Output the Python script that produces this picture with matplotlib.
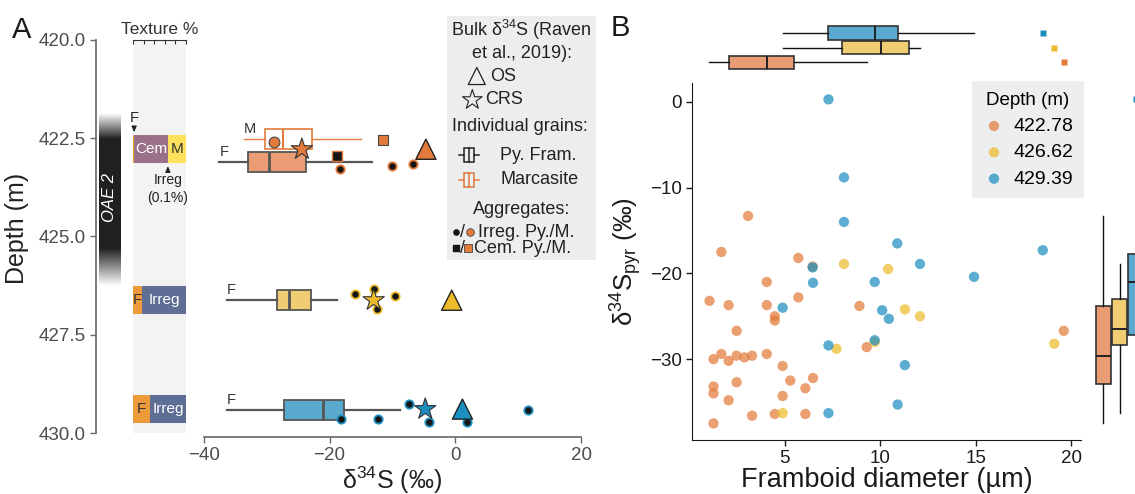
import numpy as np
import matplotlib
matplotlib.use('Agg')
import matplotlib.pyplot as plt
from matplotlib.patches import Rectangle

plt.rcParams['font.family'] = ['Liberation Sans', 'DejaVu Sans']
plt.rcParams['mathtext.fontset'] = 'custom'
plt.rcParams['mathtext.rm'] = 'Liberation Sans'
plt.rcParams['mathtext.it'] = 'Liberation Sans:italic'

# ---------------- data ----------------
depth_labels = ['422.78', '426.62', '429.39']
depths = [422.78, 426.62, 429.39]
colors = ['#E27B3B', '#EDBB2C', '#1D8EC0']
light = ['#EA9D74', '#F0CD72', '#5AAAD0']

# framboid diameter (um) and d34S (permil) of individual pyrite framboids
diam_42278 = [3.07, 1.67, 5.7, 6.45, 1.05, 2.05, 4.05, 4.05, 5.7, 4.47, 4.47, 2.47, 8.9,
              1.26, 1.67, 2.05, 2.47, 2.88, 3.28, 4.05, 4.88, 5.28, 6.47, 6.07, 2.47,
              1.26, 1.26, 2.05, 4.88, 3.28, 4.47, 6.07, 1.26, 9.28, 19.6]
d34s_42278 = [-13.3, -17.5, -18.2, -19.2, -23.2, -23.7, -21.0, -23.7, -22.8, -25.0, -25.5, -26.7, -23.8,
              -30.0, -29.4, -30.2, -29.6, -29.8, -29.6, -29.4, -30.8, -32.5, -32.2, -33.4, -32.7,
              -33.2, -34.0, -34.8, -34.3, -36.6, -36.4, -36.4, -37.5, -28.6, -26.7]
diam_42662 = [8.09, 10.4, 7.7, 4.88, 9.7, 11.28, 12.07, 19.1]
d34s_42662 = [-18.9, -19.5, -28.8, -36.3, -28.0, -24.2, -25.0, -28.2]
diam_42939 = [7.28, 8.09, 8.09, 6.45, 6.47, 9.7, 4.88, 10.09, 10.44, 7.28, 9.7, 7.28,
              10.88, 12.07, 18.5, 14.9, 11.28, 10.9]
d34s_42939 = [0.3, -8.8, -14.0, -19.3, -21.1, -21.0, -24.0, -24.3, -25.3, -28.4, -27.8, -36.3,
              -16.5, -18.9, -17.3, -20.4, -30.7, -35.3]
diam = [diam_42278, diam_42662, diam_42939]
d34s = [d34s_42278, d34s_42662, d34s_42939]

# bulk d34S (Raven et al., 2019)
bulk_os = [-4.7, -0.6, 1.1]
bulk_crs = [-24.4, -13.0, -4.8]

# aggregates: irregular pyrite (value, jittered depth)
irr_py_42278 = [-18.3, -10.1, -6.7]
irr_dep_42278 = [423.29, 423.21, 423.15]
irr_py_42662 = [-16.0, -13.0, -12.4, -9.6]
irr_dep_42662 = [426.45, 426.34, 426.85, 426.51]
irr_py_42939 = [-18.2, -12.3, -7.4, -4.2, 1.8, 11.5]
irr_dep_42939 = [429.65, 429.65, 429.27, 429.73, 429.73, 429.41]
cem_py = [-18.9]
cem_py_dep = [422.95]
irr_marc = [-28.9]
irr_marc_dep = [422.6]
cem_marc = [-11.5]
cem_marc_dep = [422.54]

# marcasite individual grains (box stats)
marc_stats = [dict(whislo=-33.6, q1=-30.2, med=-27.4, q3=-22.8, whishi=-15.0)]

# texture % per depth: F, Cem, Irreg, M
tex_names = ['F', 'Cem', 'Irreg', 'M']
tex_colors = ['#EC9A3A', '#9A7189', '#5F6E94', '#FDE05B']
tex_text = ['#333333', 'white', 'white', '#333333']
tex_42278 = [2.0, 63.9, 0.1, 34.0]
tex_42662 = [17.0, 0.0, 83.0, 0.0]
tex_42939 = [32.0, 0.0, 68.0, 0.0]
textures = [tex_42278, tex_42662, tex_42939]

# ---------------- figure ----------------
W, H = 1135, 494
fig = plt.figure(figsize=(W / 100, H / 100), dpi=100)


def rect(x0, y0, x1, y1):
    return [x0 / W, 1 - y1 / H, (x1 - x0) / W, (y1 - y0) / H]


gray = '#4D4D4D'

# ---- panel A ----
axA = fig.add_axes(rect(96, 36, 594, 437))
axA.set_xlim(-57.1, 22)
axA.set_ylim(430.1, 419.9)
for s in ['top', 'right']:
    axA.spines[s].set_visible(False)
axA.spines['left'].set_bounds(420, 430)
axA.spines['bottom'].set_bounds(-40, 20)
for s in ['left', 'bottom']:
    axA.spines[s].set_color('#666666')
    axA.spines[s].set_linewidth(1.2)
axA.set_yticks([420, 422.5, 425, 427.5, 430])
axA.set_yticklabels(['420.0', '422.5', '425.0', '427.5', '430.0'])
axA.set_xticks([-40, -20, 0, 20])
axA.tick_params(labelsize=13.5, labelcolor=gray, color='#666666', length=4, width=1)
axA.set_xlabel('δ$^{34}$S (‰)', fontsize=18, color='#222222', va='center')
axA.xaxis.set_label_coords(0.595, (437 - 480) / 401)
axA.set_ylabel('Depth (m)', fontsize=18, color='#222222')
axA.yaxis.set_label_coords(-0.135, 0.52)

# OAE 2 gradient bar
z = np.linspace(421.85, 426.25, 300)
shade = np.interp(z, [421.85, 422.5, 425.3, 426.25], [1.0, 0.13, 0.13, 1.0])
axA.imshow(shade.reshape(-1, 1), extent=[-56.7, -53.3, 426.25, 421.85], aspect='auto',
           cmap='gray', vmin=0, vmax=1, origin='upper', zorder=1)
axA.text(-55.0, 424.0, 'OAE 2', rotation=90, color='white', fontsize=12, style='italic',
         ha='center', va='center', zorder=2)

# F boxes (pyrite framboids)
dodge = [0.33, 0.0, 0.02]
for i in range(3):
    pos = depths[i] + dodge[i]
    bp = axA.boxplot(d34s[i], positions=[pos], widths=0.52, orientation='horizontal',
                     patch_artist=True, showfliers=False, showcaps=False, manage_ticks=False,
                     boxprops=dict(facecolor=light[i], edgecolor='#555555', linewidth=1.3),
                     whiskerprops=dict(color='#555555', linewidth=1.6),
                     medianprops=dict(color='#555555', linewidth=2))
    lo = bp['whiskers'][0].get_xdata()[1]
    axA.text(lo, pos - 0.08, 'F', fontsize=10.5, color='#333333', ha='left', va='bottom')

# marcasite box
mpos = depths[0] - 0.255
axA.bxp(marc_stats, positions=[mpos], widths=0.52, orientation='horizontal', patch_artist=True,
        showfliers=False, showcaps=False, manage_ticks=False,
        boxprops=dict(facecolor='white', edgecolor=colors[0], linewidth=1.2),
        whiskerprops=dict(color=colors[0], linewidth=1.0),
        medianprops=dict(color=colors[0], linewidth=1.5))
axA.text(marc_stats[0]['whislo'], mpos - 0.08, 'M', fontsize=10.5, color='#333333',
         ha='left', va='bottom')

# aggregates
irr_py = [irr_py_42278, irr_py_42662, irr_py_42939]
irr_dep = [irr_dep_42278, irr_dep_42662, irr_dep_42939]
for i in range(3):
    axA.scatter(irr_py[i], irr_dep[i], s=36, marker='o', c='#151515', edgecolors=colors[i],
                linewidths=1.3, zorder=4)
axA.scatter(cem_py, cem_py_dep, s=55, marker='s', c='#151515', edgecolors=colors[0],
            linewidths=1.0, zorder=4)
axA.scatter(irr_marc, irr_marc_dep, s=60, marker='o', c=colors[0], edgecolors='#444444',
            linewidths=0.8, zorder=4)
axA.scatter(cem_marc, cem_marc_dep, s=60, marker='s', c=colors[0], edgecolors='#444444',
            linewidths=0.8, zorder=4)
# bulk
axA.scatter(bulk_os, depths, s=210, marker='^', c=colors, edgecolors='#222222',
            linewidths=1.0, zorder=5)
axA.scatter(bulk_crs, depths, s=260, marker='*', c=colors, edgecolors='#333333',
            linewidths=0.8, zorder=5)

# texture column
axT = fig.add_axes(rect(133.3, 39.9, 185.7, 433.1))
axT.set_xlim(0, 100)
axT.set_ylim(430, 420)
axT.set_facecolor('#F2F3F3')
for s in ['left', 'right', 'bottom']:
    axT.spines[s].set_visible(False)
axT.spines['top'].set_color('#333333')
axT.xaxis.tick_top()
axT.set_xticks([0, 20, 40, 60, 80, 100])
axT.tick_params(axis='x', direction='in', length=3, labeltop=False, color='#333333')
axT.set_yticks([])
axT.set_title('Texture %', fontsize=12.5, color='#333333', pad=4)
for i in range(3):
    left = 0.0
    for k, v in enumerate(textures[i]):
        if v > 0:
            axT.barh(depths[i], v, left=left, height=0.7, color=tex_colors[k], linewidth=0)
            if v >= 10:
                axT.text(left + v / 2, depths[i], tex_names[k], color=tex_text[k],
                         fontsize=11, ha='center', va='center')
        left += v
axT.text(1.5, 421.98, 'F', fontsize=10.5, ha='center', va='center', color='#222222')
axT.annotate('', xy=(1.5, 422.42), xytext=(1.5, 422.15),
             arrowprops=dict(arrowstyle='-|>,head_length=0.35,head_width=0.15', color='#222222', lw=0.8))
axT.annotate('', xy=(66, 423.14), xytext=(66, 423.38),
             arrowprops=dict(arrowstyle='-|>,head_length=0.35,head_width=0.15', color='#222222', lw=0.8))
axT.text(66, 423.57, 'Irreg', fontsize=10, ha='center', va='center', color='#222222')
axT.text(66, 424.02, '(0.1%)', fontsize=10, ha='center', va='center', color='#222222')

# legend A
axL = fig.add_axes(rect(447, 16, 596, 260))
axL.set_facecolor('#EBEDEF')
axL.set_xlim(0, 1)
axL.set_ylim(0, 1)
axL.set_xticks([])
axL.set_yticks([])
for s in axL.spines.values():
    s.set_visible(False)
fs = 13
tc = '#222222'
axL.text(0.5, 0.943, 'Bulk δ$^{34}$S (Raven', fontsize=fs, ha='center', va='center', color=tc)
axL.text(0.5, 0.847, 'et al., 2019):', fontsize=fs, ha='center', va='center', color=tc)
axL.scatter([0.20], [0.754], marker='^', s=150, facecolors='none', edgecolors='#222222', linewidths=0.9)
axL.text(0.29, 0.754, 'OS', fontsize=fs, ha='left', va='center', color=tc)
axL.scatter([0.17], [0.656], marker='*', s=220, facecolors='none', edgecolors='#222222', linewidths=0.8)
axL.text(0.255, 0.656, 'CRS', fontsize=fs, ha='left', va='center', color=tc)
axL.text(0.49, 0.549, 'Individual grains:', fontsize=fs, ha='center', va='center', color=tc)
for yy, cc, lab in [(0.43, '#222222', 'Py. Fram.'), (0.328, colors[0], 'Marcasite')]:
    axL.plot([0.083, 0.117], [yy, yy], color=cc, lw=1.1)
    axL.plot([0.184, 0.217], [yy, yy], color=cc, lw=1.1)
    axL.add_patch(Rectangle((0.117, yy - 0.03), 0.067, 0.06, facecolor='none', edgecolor=cc, lw=1.1))
    axL.plot([0.15, 0.15], [yy - 0.03, yy + 0.03], color=cc, lw=1.1)
    axL.text(0.356, yy, lab, fontsize=fs, ha='left', va='center', color=tc)
axL.text(0.5, 0.205, 'Aggregates:', fontsize=fs, ha='center', va='center', color=tc)
axL.scatter([0.063], [0.113], marker='o', s=14, c='#151515')
axL.text(0.107, 0.113, '/', fontsize=fs, ha='center', va='center', color=tc)
axL.scatter([0.152], [0.113], marker='o', s=30, c=colors[0], edgecolors='#444444', linewidths=0.6)
axL.text(0.205, 0.113, 'Irreg. Py./M.', fontsize=fs, ha='left', va='center', color=tc)
axL.scatter([0.06], [0.048], marker='s', s=18, c='#151515')
axL.text(0.103, 0.048, '/', fontsize=fs, ha='center', va='center', color=tc)
axL.scatter([0.143], [0.048], marker='s', s=30, c=colors[0], edgecolors='#444444', linewidths=0.6)
axL.text(0.184, 0.048, 'Cem. Py./M.', fontsize=fs, ha='left', va='center', color=tc)

# ---- panel B ----
axB = fig.add_axes(rect(692.3, 83.1, 1081, 439.7))
axB.set_xlim(0.15, 20.5)
axB.set_ylim(-39.4, 2.2)
for s in ['top', 'right']:
    axB.spines[s].set_visible(False)
for s in ['left', 'bottom']:
    axB.spines[s].set_color('#1a1a1a')
axB.set_xticks([5, 10, 15, 20])
axB.set_yticks([0, -10, -20, -30])
axB.tick_params(labelsize=13.5, labelcolor='#1a1a1a', color='#1a1a1a', length=4, width=1)
handles = []
for i in range(3):
    h = axB.scatter(diam[i], d34s[i], s=55, c=colors[i], alpha=0.72, edgecolors='none',
                    label=depth_labels[i], zorder=3)
    handles.append(h)
axB.set_xlabel('Framboid diameter (µm)', fontsize=19.5, color='#1a1a1a', va='center')
axB.xaxis.set_label_coords(0.5, (439.7 - 480) / 356.6)
axB.set_ylabel('δ$^{34}$S$_{\\mathrm{pyr}}$ (‰)', fontsize=18.5, color='#1a1a1a', labelpad=4)
leg = fig.legend(handles=handles, title='Depth (m)', loc='upper right',
                 bbox_to_anchor=(1084 / W, 1 - 81 / H), borderaxespad=0, fontsize=14,
                 title_fontsize=13.5, facecolor='#EDEEF0', edgecolor='none', framealpha=1,
                 fancybox=False, handlelength=1.2, handletextpad=0.4, labelspacing=0.45,
                 borderpad=0.55)

# top marginal (diameter)
axTop = fig.add_axes(rect(692.3, 24.15, 1081, 71.35), sharex=axB)
for i in range(3):
    axTop.boxplot(diam[i], positions=[i], widths=0.9, orientation='horizontal', patch_artist=True,
                  showcaps=False, manage_ticks=False,
                  flierprops=dict(marker='s', markerfacecolor=colors[i], markeredgecolor='none',
                                  markersize=4.5),
                  boxprops=dict(facecolor=light[i], edgecolor='#333333', linewidth=1.2),
                  whiskerprops=dict(color='#111111', linewidth=1.0),
                  medianprops=dict(color='#222222', linewidth=1.4))
axTop.set_ylim(-0.6, 2.6)
axTop.axis('off')

# right marginal (d34S)
axR = fig.add_axes(rect(1093.7, 83.1, 1145.3, 439.7), sharey=axB)
for i in range(3):
    axR.boxplot(d34s[i], positions=[i], widths=0.92, patch_artist=True,
                showcaps=False, manage_ticks=False,
                flierprops=dict(marker='s', markerfacecolor=colors[i], markeredgecolor='none',
                                markersize=4.5),
                boxprops=dict(facecolor=light[i], edgecolor='#333333', linewidth=1.2),
                whiskerprops=dict(color='#111111', linewidth=1.0),
                medianprops=dict(color='#222222', linewidth=1.4))
axR.set_xlim(-0.6, 2.6)
axR.axis('off')

fig.text(22 / W, 1 - 30 / H, 'A', fontsize=21, ha='center', va='center', color='#1a1a1a')
fig.text(620 / W, 1 - 28 / H, 'B', fontsize=21, ha='center', va='center', color='#1a1a1a')

fig.savefig('out.png', dpi=100)
